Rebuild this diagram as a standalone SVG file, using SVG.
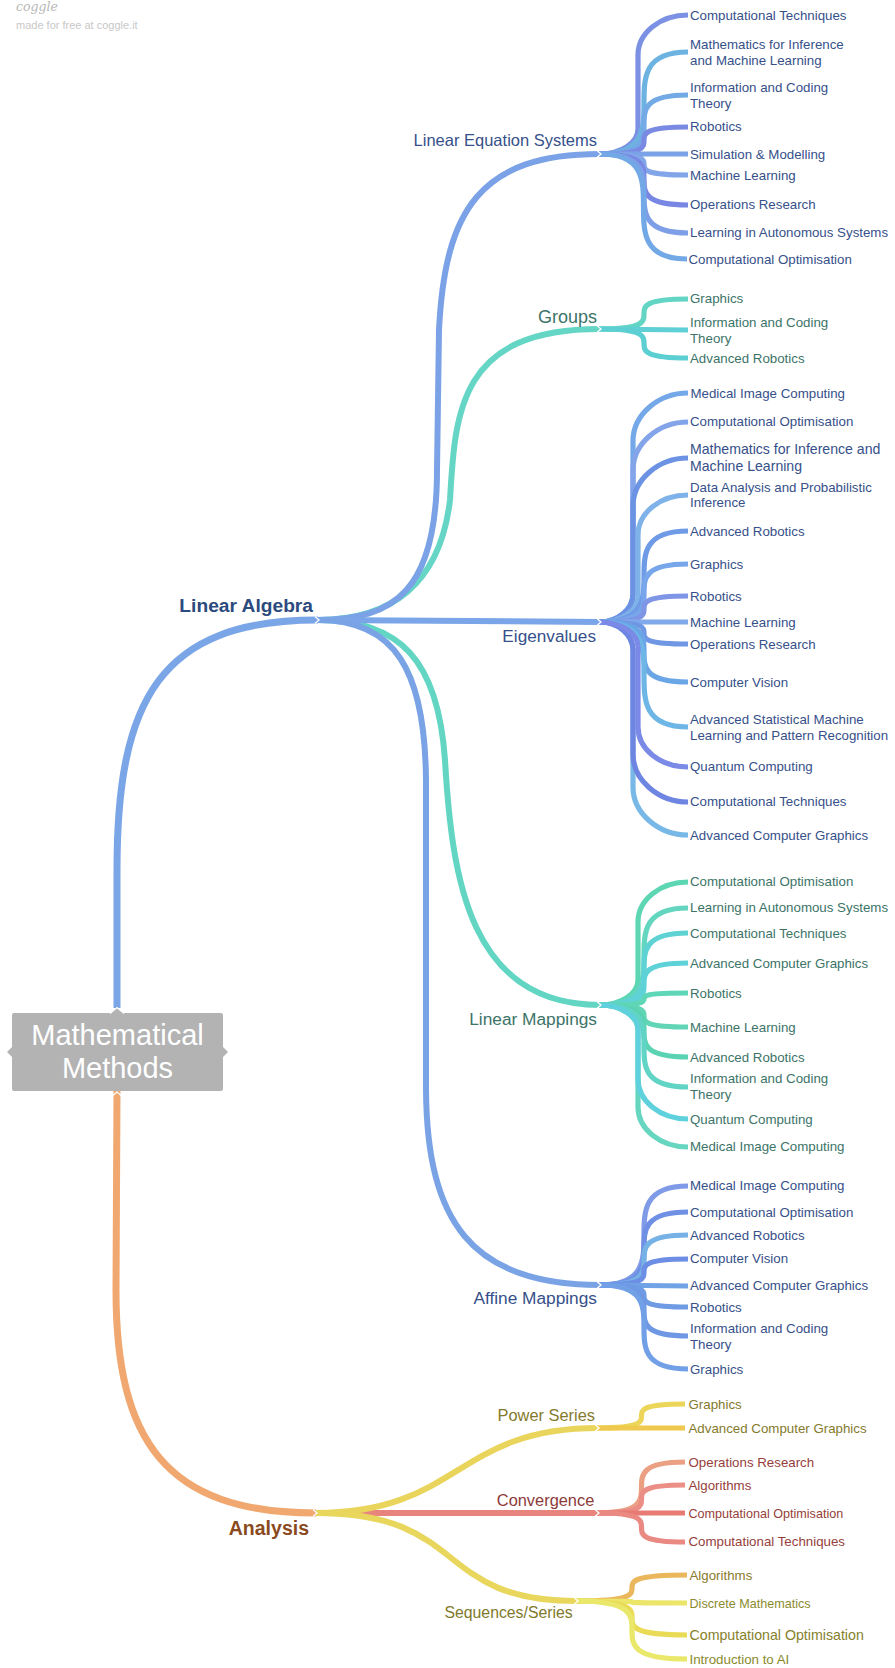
<svg xmlns="http://www.w3.org/2000/svg" width="895" height="1668" viewBox="0 0 895 1668">
<style>
text{font-family:"Liberation Sans",Arial,sans-serif}
.lf{font-size:13.3px}
.tb{fill:#36508a}
.tt{fill:#3c7468}
.ty{fill:#857a2c}
.tr{fill:#963e3a}
.c{fill:none;stroke-linecap:butt}
.w7{stroke-width:7}
.w6{stroke-width:6}
.w5{stroke-width:5.2}
.n{fill:none;stroke:#fff;stroke-width:1.3}
.br{font-size:16.5px}
</style>
<rect width="895" height="1668" fill="#ffffff"/>
<g id="watermark">
<text x="16" y="11" style="font-family:'DejaVu Serif',serif;font-style:italic;font-size:12.5px" fill="#b8b8b8">coggle</text>
<text x="16" y="29" style="font-size:11px" fill="#c8c8c8">made for free at coggle.it</text>
</g>
<g id="connectors">
<path class="c w7" stroke="#7aa5e6" d="M117,1008 L117,870 C117,700 160,620 318,620"/>
<path class="c w7" stroke="#f0a870" d="M117,1091 L116,1290 C116,1440 165,1513 316,1513"/>
<path class="c w6" stroke="#65d5c5" d="M318,620 C390,620 440,585 450,500 C455,410 460,329 600,329"/>
<path class="c w6" stroke="#63d5c3" d="M318,620 C400,620 438,660 445,760 C452,880 470,1005 600,1005"/>
<path class="c w6" stroke="#7ba2e6" d="M318,620 C395,620 437,590 437,470 L439,330 C445,210 480,154 600,154"/>
<path class="c w6" stroke="#7aa5e8" d="M318,620 L600,622"/>
<path class="c w6" stroke="#7aa3e6" d="M318,620 C395,620 425,670 426,780 L426,1090 C427,1220 470,1285 600,1285"/>
<path class="c w6" stroke="#e8847e" d="M316,1513 L598,1513"/>
<path class="c w6" stroke="#e9d55c" d="M316,1513 C460,1513 455,1428 598,1428"/>
<path class="c w6" stroke="#e9d65c" d="M316,1513 C470,1513 432,1601 577,1601"/>
<path class="c w5" stroke="#7c91e4" d="M600,154 c21,0 38,-11 38,-25 V55 c0,-22 22,-40 50,-40"/>
<path class="c w5" stroke="#6db3e2" d="M600,154 C688,154 600,52 688,52"/>
<path class="c w5" stroke="#73aae5" d="M600,154 C688,154 600,95 688,95"/>
<path class="c w5" stroke="#7a8ae3" d="M600,154 C688,154 600,127 688,127"/>
<path class="c w5" stroke="#79a3e6" d="M600,154 L688,154"/>
<path class="c w5" stroke="#81a5e8" d="M600,154 C688,154 600,175 688,175"/>
<path class="c w5" stroke="#7887e3" d="M600,154 C688,154 600,205 688,205"/>
<path class="c w5" stroke="#7e9fe8" d="M600,154 C688,154 600,233 688,233"/>
<path class="c w5" stroke="#72a8e6" d="M600,154 C687,154 600,259 687,259"/>
<path class="c w5" stroke="#62d5c4" d="M600,329 C688,329 600,299 688,299"/>
<path class="c w5" stroke="#5fcfd6" d="M600,329 L688,330"/>
<path class="c w5" stroke="#5ccfd3" d="M600,329 C688,329 600,358 688,358"/>
<path class="c w5" stroke="#74a8e8" d="M600,622 c18,0 33,-12.6 33,-28 V441 c0,-26 25,-48 55,-48"/>
<path class="c w5" stroke="#84a4ea" d="M600,622 c18,0 33,-12.6 33,-28 V470 c0,-26 25,-48 55,-48"/>
<path class="c w5" stroke="#6c92e4" d="M600,622 c18,0 33,-12.6 33,-28 V506 c0,-26 25,-48 55,-48"/>
<path class="c w5" stroke="#7eb2e8" d="M600,622 c21,0 38,-11 38,-25 V535 c0,-22 22,-40 50,-40"/>
<path class="c w5" stroke="#6f9be6" d="M600,622 C688,622 600,531 688,531"/>
<path class="c w5" stroke="#77a6ea" d="M600,622 C688,622 600,564 688,564"/>
<path class="c w5" stroke="#7f95e6" d="M600,622 C688,622 600,596 688,596"/>
<path class="c w5" stroke="#80aaea" d="M600,622 L688,622"/>
<path class="c w5" stroke="#6f97e4" d="M600,622 C688,622 600,644 688,644"/>
<path class="c w5" stroke="#6aa6e6" d="M600,622 C688,622 600,682 688,682"/>
<path class="c w5" stroke="#6db6e6" d="M600,622 C688,622 600,727 688,727"/>
<path class="c w5" stroke="#78b8e6" d="M600,622 c18,0 33,12.6 33,28 V787 c0,26 25,48 55,48"/>
<path class="c w5" stroke="#6f85e2" d="M600,622 c18,0 33,12.6 33,28 V754 c0,26 25,48 55,48"/>
<path class="c w5" stroke="#7b8ae6" d="M600,622 c21,0 38,11 38,25 V727 c0,22 22,40 50,40"/>
<path class="c w5" stroke="#5dd6b3" d="M600,1005 c21,0 38,-11 38,-25 V922 c0,-22 22,-40 50,-40"/>
<path class="c w5" stroke="#64d6bf" d="M600,1005 C688,1005 600,908 688,908"/>
<path class="c w5" stroke="#5fd3d3" d="M600,1005 C688,1005 600,933 688,933"/>
<path class="c w5" stroke="#5fd2d8" d="M600,1005 C688,1005 600,963 688,963"/>
<path class="c w5" stroke="#5fd6b8" d="M600,1005 C688,1005 600,993 688,993"/>
<path class="c w5" stroke="#61d5b5" d="M600,1005 C688,1005 600,1027 688,1027"/>
<path class="c w5" stroke="#5ad3b2" d="M600,1005 C688,1005 600,1057 688,1057"/>
<path class="c w5" stroke="#62d4c6" d="M600,1005 C688,1005 600,1087 688,1087"/>
<path class="c w5" stroke="#66d6c0" d="M600,1005 c21,0 38,11 38,25 V1107 c0,22 22,40 50,40"/>
<path class="c w5" stroke="#5fd1dc" d="M600,1005 c21,0 38,11 38,25 V1079 c0,22 22,40 50,40"/>
<path class="c w5" stroke="#7f9ae6" d="M600,1285 C688,1285 600,1186 688,1186"/>
<path class="c w5" stroke="#6f90e4" d="M600,1285 C688,1285 600,1212 688,1212"/>
<path class="c w5" stroke="#77b2e6" d="M600,1285 C688,1285 600,1235 688,1235"/>
<path class="c w5" stroke="#6c8ee4" d="M600,1285 C688,1285 600,1259 688,1259"/>
<path class="c w5" stroke="#6fa3e6" d="M600,1285 L688,1286"/>
<path class="c w5" stroke="#6f9ae4" d="M600,1285 C688,1285 600,1307 688,1307"/>
<path class="c w5" stroke="#6f98e4" d="M600,1285 C688,1285 600,1336 688,1336"/>
<path class="c w5" stroke="#72a0e6" d="M600,1285 C688,1285 600,1369 688,1369"/>
<path class="c w5" stroke="#ecd65a" d="M598,1428 C685,1428 598,1404 685,1404"/>
<path class="c w5" stroke="#eec94e" d="M598,1428 L685,1428"/>
<path class="c w5" stroke="#eba084" d="M598,1513 C685,1513 598,1462 685,1462"/>
<path class="c w5" stroke="#eb8f86" d="M598,1513 C685,1513 598,1485 685,1485"/>
<path class="c w5" stroke="#e77a72" d="M598,1513 L685,1513"/>
<path class="c w5" stroke="#ea8882" d="M598,1513 C685,1513 598,1542 685,1542"/>
<path class="c w5" stroke="#eab75c" d="M577,1601 C687,1601 577,1575 687,1575"/>
<path class="c w5" stroke="#ebe56a" d="M577,1601 C687,1601 577,1603 687,1603"/>
<path class="c w5" stroke="#e9db55" d="M577,1601 C687,1601 577,1635 687,1635"/>
<path class="c w5" stroke="#e9e86a" d="M577,1601 C687,1601 577,1659 687,1659"/>
<path class="n" d="M315,616.5 L319,620 L315,623.5"/>
<path class="n" d="M313,1509.5 L317,1513 L313,1516.5"/>
<path class="n" d="M597,150.5 L601,154 L597,157.5"/>
<path class="n" d="M597,325.5 L601,329 L597,332.5"/>
<path class="n" d="M597,618.5 L601,622 L597,625.5"/>
<path class="n" d="M597,1001.5 L601,1005 L597,1008.5"/>
<path class="n" d="M597,1281.5 L601,1285 L597,1288.5"/>
<path class="n" d="M595,1424.5 L599,1428 L595,1431.5"/>
<path class="n" d="M595,1509.5 L599,1513 L595,1516.5"/>
<path class="n" d="M574,1597.5 L578,1601 L574,1604.5"/>
<path class="n" d="M111,1097 L117,1092 L123,1097"/>
</g>
<g id="root">
<rect x="12" y="1013" width="211" height="78" rx="2" fill="#b3b3b3"/>
<path d="M110,1013.5 L117,1007.5 L124,1013.5" fill="#b3b3b3" stroke="#ffffff" stroke-width="1.2"/>
<polygon points="12,1047 7,1052 12,1057" fill="#b3b3b3"/>
<polygon points="223,1047 228,1052 223,1057" fill="#b3b3b3"/>
<text x="117.5" y="1045" text-anchor="middle" fill="#ffffff" style="font-size:29px">Mathematical</text>
<text x="117.5" y="1078" text-anchor="middle" fill="#ffffff" style="font-size:29px">Methods</text>
</g>
<g id="linear-algebra"><text x="313" y="612" text-anchor="end" fill="#2c4a7e" style="font-size:19.2px;font-weight:bold">Linear Algebra</text></g>
<g id="analysis"><text x="309" y="1535" text-anchor="end" fill="#8a4a20" style="font-size:19.5px;font-weight:bold">Analysis</text></g>
<g id="linear-equation-systems"><text x="597" y="146" text-anchor="end" class="br tb">Linear Equation Systems</text></g>
<g id="groups"><text x="597" y="322.7" text-anchor="end" class="tt" style="font-size:18px">Groups</text></g>
<g id="eigenvalues"><text x="596" y="642" text-anchor="end" class="tb" style="font-size:17.2px">Eigenvalues</text></g>
<g id="linear-mappings"><text x="597" y="1025" text-anchor="end" class="tt" style="font-size:17.3px">Linear Mappings</text></g>
<g id="affine-mappings"><text x="597" y="1304" text-anchor="end" class="tb" style="font-size:17.3px">Affine Mappings</text></g>
<g id="power-series"><text x="595" y="1420.7" text-anchor="end" class="ty" style="font-size:16.4px">Power Series</text></g>
<g id="convergence"><text x="594.3" y="1506" text-anchor="end" fill="#8c3b39" style="font-size:16.4px">Convergence</text></g>
<g id="sequences-series"><text x="572.7" y="1618.3" text-anchor="end" fill="#7f7a2b" style="font-size:15.8px">Sequences/Series</text></g>
<g id="les-1"><text x="690" y="20" class="lf tb">Computational Techniques</text></g>
<g id="les-2"><text x="690" y="48.5" class="lf tb">Mathematics for Inference</text><text x="690" y="64.5" class="lf tb">and Machine Learning</text></g>
<g id="les-3"><text x="690" y="91.7" class="lf tb">Information and Coding</text><text x="690" y="107.7" class="lf tb">Theory</text></g>
<g id="les-4"><text x="690" y="131.4" class="lf tb">Robotics</text></g>
<g id="les-5"><text x="690" y="158.7" class="lf tb">Simulation &amp; Modelling</text></g>
<g id="les-6"><text x="690" y="179.7" class="lf tb">Machine Learning</text></g>
<g id="les-7"><text x="690" y="209.4" class="lf tb">Operations Research</text></g>
<g id="les-8"><text x="690" y="237.4" class="lf tb">Learning in Autonomous Systems</text></g>
<g id="les-9"><text x="688.5" y="264" class="lf tb">Computational Optimisation</text></g>
<g id="grp-1"><text x="690" y="303.3" class="lf tt">Graphics</text></g>
<g id="grp-2"><text x="690" y="327.3" class="lf tt">Information and Coding</text><text x="690" y="342.7" class="lf tt">Theory</text></g>
<g id="grp-3"><text x="690" y="362.7" class="lf tt">Advanced Robotics</text></g>
<g id="ev-1"><text x="690.5" y="398" class="lf tb">Medical Image Computing</text></g>
<g id="ev-2"><text x="690" y="426.3" class="lf tb">Computational Optimisation</text></g>
<g id="ev-3"><text x="690" y="454.3" class="tb" style="font-size:14.1px">Mathematics for Inference and</text><text x="690" y="470.7" class="tb" style="font-size:14.1px">Machine Learning</text></g>
<g id="ev-4"><text x="690" y="491.7" class="lf tb">Data Analysis and Probabilistic</text><text x="690" y="507.3" class="lf tb">Inference</text></g>
<g id="ev-5"><text x="690" y="535.7" class="lf tb">Advanced Robotics</text></g>
<g id="ev-6"><text x="690" y="569" class="lf tb">Graphics</text></g>
<g id="ev-7"><text x="690" y="600.7" class="lf tb">Robotics</text></g>
<g id="ev-8"><text x="690" y="627" class="lf tb">Machine Learning</text></g>
<g id="ev-9"><text x="690" y="649" class="lf tb">Operations Research</text></g>
<g id="ev-10"><text x="690" y="687" class="lf tb">Computer Vision</text></g>
<g id="ev-11"><text x="690" y="724" class="lf tb">Advanced Statistical Machine</text><text x="690" y="740" class="lf tb">Learning and Pattern Recognition</text></g>
<g id="ev-12"><text x="690" y="771.4" class="lf tb">Quantum Computing</text></g>
<g id="ev-13"><text x="690" y="806.4" class="lf tb">Computational Techniques</text></g>
<g id="ev-14"><text x="690" y="839.7" class="lf tb">Advanced Computer Graphics</text></g>
<g id="lm-1"><text x="690" y="886.4" class="lf tt">Computational Optimisation</text></g>
<g id="lm-2"><text x="690" y="912.4" class="lf tt">Learning in Autonomous Systems</text></g>
<g id="lm-3"><text x="690" y="938" class="lf tt">Computational Techniques</text></g>
<g id="lm-4"><text x="690" y="968" class="lf tt">Advanced Computer Graphics</text></g>
<g id="lm-5"><text x="690" y="998" class="lf tt">Robotics</text></g>
<g id="lm-6"><text x="690" y="1032" class="lf tt">Machine Learning</text></g>
<g id="lm-7"><text x="690" y="1062" class="lf tt">Advanced Robotics</text></g>
<g id="lm-8"><text x="690" y="1083.3" class="lf tt">Information and Coding</text><text x="690" y="1099.3" class="lf tt">Theory</text></g>
<g id="lm-9"><text x="690" y="1124" class="lf tt">Quantum Computing</text></g>
<g id="lm-10"><text x="690" y="1151.4" class="lf tt">Medical Image Computing</text></g>
<g id="am-1"><text x="690" y="1190.4" class="lf tb">Medical Image Computing</text></g>
<g id="am-2"><text x="690" y="1217" class="lf tb">Computational Optimisation</text></g>
<g id="am-3"><text x="690" y="1240" class="lf tb">Advanced Robotics</text></g>
<g id="am-4"><text x="690" y="1263.4" class="lf tb">Computer Vision</text></g>
<g id="am-5"><text x="690" y="1290.4" class="lf tb">Advanced Computer Graphics</text></g>
<g id="am-6"><text x="690" y="1312" class="lf tb">Robotics</text></g>
<g id="am-7"><text x="690" y="1333.3" class="lf tb">Information and Coding</text><text x="690" y="1349" class="lf tb">Theory</text></g>
<g id="am-8"><text x="690" y="1374" class="lf tb">Graphics</text></g>
<g id="ps-1"><text x="688.5" y="1409" class="lf ty">Graphics</text></g>
<g id="ps-2"><text x="688.5" y="1433" class="lf ty">Advanced Computer Graphics</text></g>
<g id="cv-1"><text x="688.5" y="1467" class="lf tr">Operations Research</text></g>
<g id="cv-2"><text x="688.5" y="1490" class="lf tr">Algorithms</text></g>
<g id="cv-3"><text x="688.5" y="1517.7" class="tr" style="font-size:12.6px">Computational Optimisation</text></g>
<g id="cv-4"><text x="688.5" y="1546.4" class="lf tr">Computational Techniques</text></g>
<g id="sq-1"><text x="689.5" y="1579.7" class="lf" fill="#8a7a2c">Algorithms</text></g>
<g id="sq-2"><text x="689.5" y="1607.7" fill="#8b8b2e" style="font-size:12.6px">Discrete Mathematics</text></g>
<g id="sq-3"><text x="689.5" y="1640" fill="#86812c" style="font-size:14.2px">Computational Optimisation</text></g>
<g id="sq-4"><text x="689.5" y="1664" class="lf" fill="#8a8a2e">Introduction to AI</text></g>
</svg>
